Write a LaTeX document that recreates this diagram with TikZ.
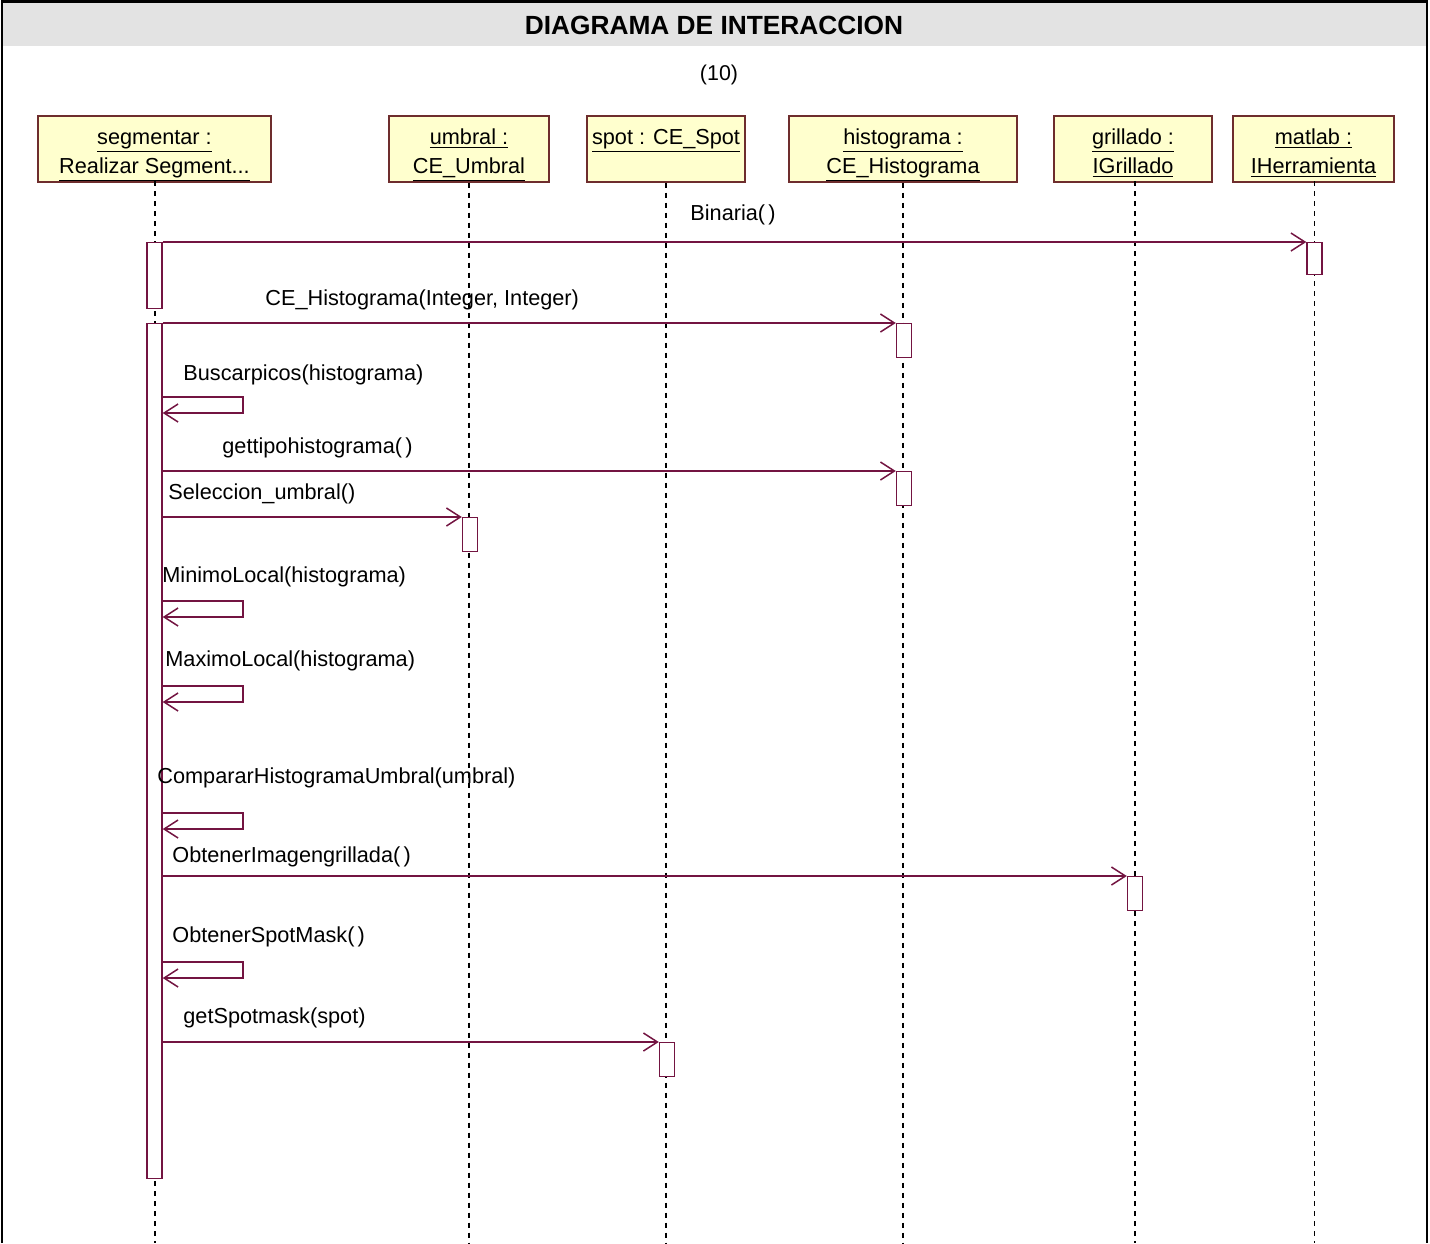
\documentclass[tikz,border=0pt]{standalone}
\usepackage{fontspec}
\setmainfont{Liberation Sans}
\usetikzlibrary{arrows.meta}
\definecolor{msgcol}{RGB}{115,20,65}
\definecolor{boxline}{RGB}{110,45,45}
\definecolor{boxfill}{RGB}{255,255,206}
\definecolor{headgray}{RGB}{227,227,227}
\newcommand{\ep}{\kern1.6pt}
\begin{document}
\begin{tikzpicture}[x=0.5pt,y=-0.5pt,
  objbox/.style={draw=boxline, fill=boxfill, line width=0.8pt, minimum height=33pt, inner sep=0pt, anchor=north},
  objtext/.style={font=\fontsize{10.85}{13}\selectfont, anchor=base, inner sep=0pt},
  lifeline/.style={draw=black, line width=0.8pt, dash pattern=on 2.5pt off 2.5pt},
  actbar/.style={draw=msgcol, fill=white, line width=0.7pt, minimum width=7.5pt, inner sep=0pt, anchor=north},
  msg/.style={draw=msgcol, line width=0.75pt, -{Straight Barb[length=7pt,width=9pt]}},
  msgtext/.style={font=\fontsize{10.85}{13}\selectfont, anchor=west, inner sep=0pt},
]
\useasboundingbox (0,0) rectangle (1430,1243);
\coordinate (bottom) at (0,1243);

% table frame with grey header row
\fill[headgray] (2,1.5) rectangle (1427,46);
\draw[black, line width=1.2pt] (2,1243) -- (2,1.5) -- (1427,1.5) -- (1427,1243);
\node[font=\bfseries\fontsize{13.15}{16}\selectfont, inner sep=0pt] (title) at (714,25) {DIAGRAMA DE INTERACCION};
\node[font=\fontsize{10.7}{13}\selectfont, inner sep=0pt] (num) at (719,75) {(10)};

% object boxes
\node[objbox, minimum width=116.5pt] (seg)  at (154.5,115) {};
\node[objbox, minimum width=80pt]    (umb)  at (469,115) {};
\node[objbox, minimum width=79pt]    (spot) at (666,115) {};
\node[objbox, minimum width=114pt]   (hist) at (903,115) {};
\node[objbox, minimum width=79pt]    (gril) at (1133,115) {};
\node[objbox, minimum width=80.5pt]  (mat)  at (1313.5,115) {};

\node[objtext] (segT1)  at (154.5,144.5) {\underline{segmentar :}};
\node[objtext] (segT2)  at (154.5,173.5) {\underline{Realizar Segment...}};
\node[objtext] (umbT1)  at (469,144.5) {\underline{umbral :}};
\node[objtext] (umbT2)  at (469,173.5) {\underline{CE\_Umbral}};
\node[objtext] (spotT1) at (666,144.5) {\underline{spot : CE\_Spot}};
\node[objtext] (histT1) at (903,144.5) {\underline{histograma :}};
\node[objtext] (histT2) at (903,173.5) {\underline{CE\_Histograma}};
\node[objtext] (grilT1) at (1133,144.5) {\underline{grillado :}};
\node[objtext] (grilT2) at (1133,173.5) {\underline{IGrillado}};
\node[objtext] (matT1)  at (1313.5,144.5) {\underline{matlab :}};
\node[objtext] (matT2)  at (1313.5,173.5) {\underline{IHerramienta}};

% lifelines
\draw[lifeline] (155,181) -- (155,1243);
\draw[lifeline] (umb.south)  -- (umb.south |- bottom);
\draw[lifeline] (spot.south) -- (spot.south |- bottom);
\draw[lifeline] (hist.south) -- (hist.south |- bottom);
\draw[lifeline] (1135,181) -- (1135,1243);
\draw[lifeline] (1314.5,181) -- (1314.5,1243);

% activation bars
\node[actbar, minimum height=33pt]    (segA1) at (154.5,242) {};
\node[actbar, minimum height=427.5pt] (segA2) at (154.5,323) {};
\node[actbar, minimum height=16pt]    (matA)  at (1314.5,242) {};
\node[actbar, minimum height=17pt]    (hist1) at (904,323) {};
\node[actbar, minimum height=17pt]    (hist2) at (904,471) {};
\node[actbar, minimum height=17pt]    (umbA)  at (470,517) {};
\node[actbar, minimum height=17pt]    (grilA) at (1135,876) {};
\node[actbar, minimum height=17pt]    (spotA) at (667,1042) {};

% calls to other objects
\draw[msg] (segA1.north east) -- (matA.north west);
\draw[msg] (segA2.north east) -- (hist1.north west);
\draw[msg] (segA2.east |- hist2.north) -- (hist2.north west);
\draw[msg] (segA2.east |- umbA.north)  -- (umbA.north west);
\draw[msg] (segA2.east |- grilA.north) -- (grilA.north west);
\draw[msg] (segA2.east |- spotA.north) -- (spotA.north west);

% self calls
\coordinate (s1a) at (243,397); \coordinate (s1b) at (243,413);
\coordinate (s2a) at (243,601); \coordinate (s2b) at (243,617);
\coordinate (s3a) at (243,686); \coordinate (s3b) at (243,702);
\coordinate (s4a) at (243,813); \coordinate (s4b) at (243,829);
\coordinate (s5a) at (243,962); \coordinate (s5b) at (243,978);
\foreach \s in {s1,s2,s3,s4,s5}
  \draw[msg] (segA2.east |- \s a) -- (\s a) -- (\s b) -- (segA2.east |- \s b);

% message labels
\node[msgtext] (m1)  at (690,215)  {Binaria(\ep)};
\node[msgtext] (m2)  at (265,300)  {CE\_Histograma(Integer, Integer)};
\node[msgtext] (m3)  at (183,375)  {Buscarpicos(histograma)};
\node[msgtext] (m4)  at (222,448)  {gettipohistograma(\ep)};
\node[msgtext] (m5)  at (168,494)  {Seleccion\_umbral()};
\node[msgtext] (m6)  at (162,577)  {MinimoLocal(histograma)};
\node[msgtext] (m7)  at (165,661)  {MaximoLocal(histograma)};
\node[msgtext] (m8)  at (157,778)  {CompararHistogramaUmbral(umbral)};
\node[msgtext] (m9)  at (172,857)  {ObtenerImagengrillada(\ep)};
\node[msgtext] (m10) at (172,937)  {ObtenerSpotMask(\ep)};
\node[msgtext] (m11) at (183,1018) {getSpotmask(spot)};
\end{tikzpicture}
\end{document}
